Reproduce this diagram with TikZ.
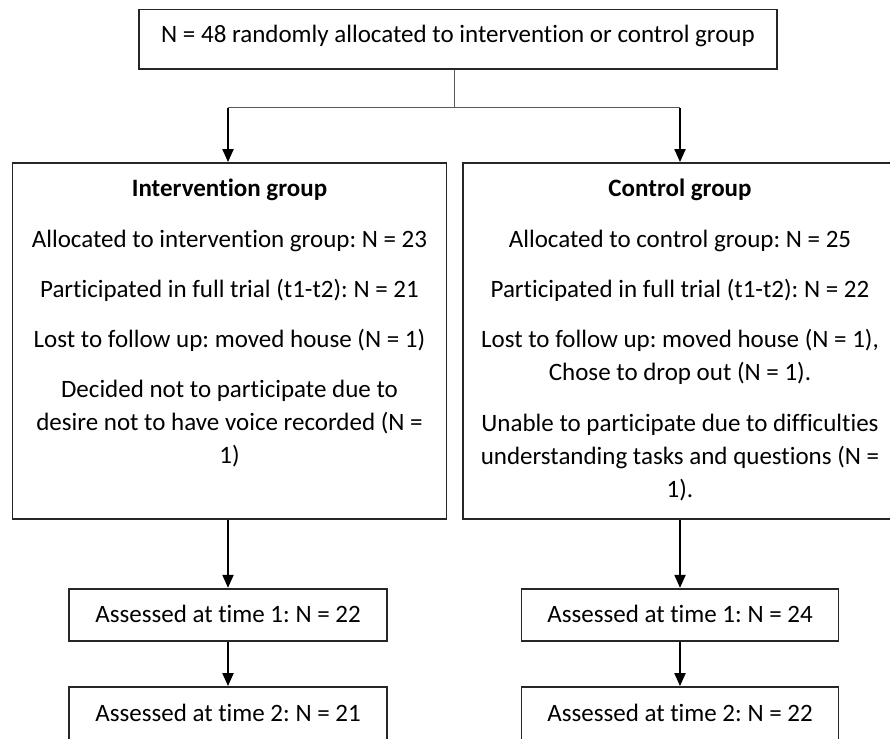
\documentclass[tikz,border=0pt]{standalone}
\usepackage{fontspec}
\setmainfont{Carlito}[Ligatures=NoCommon]
\frenchspacing
\usetikzlibrary{arrows.meta}
\tikzset{
  boxnode/.style={draw=black!85, line width=1.8pt, rectangle, inner sep=0pt, fill=none},
  txt/.style={anchor=base, inner sep=0pt, font=\fontsize{25}{33}\selectfont},
  arr/.style={line width=2pt, -{Triangle[width=11pt,length=13pt]}},
  thinline/.style={line width=1pt, draw=black!65}
}
\begin{document}
\begin{tikzpicture}[x=1pt,y=-1pt]
\useasboundingbox (0,0) rectangle (890,738);
% boxes
\node[boxnode, minimum width=638pt, minimum height=59.5pt] (top) at (458,39.25) {};
\node[boxnode, minimum width=434pt, minimum height=356pt] (intbox) at (229.5,341) {};
\node[boxnode, minimum width=434pt, minimum height=356pt] (ctrlbox) at (680,341) {};
\node[boxnode, minimum width=318pt, minimum height=52.5pt] (t1L) at (228,615) {};
\node[boxnode, minimum width=317pt, minimum height=52.5pt] (t1R) at (680,615) {};
\node[boxnode, minimum width=318pt, minimum height=60pt] (t2L) at (228,717) {};
\node[boxnode, minimum width=317pt, minimum height=60pt] (t2R) at (680,717) {};
% texts
\node[txt] (toptxt) at (458,43) {N = 48 randomly allocated to intervention or control group};
\node[txt] (inttxt) at (229.5,196) {\parbox[t]{430pt}{\centering\fontsize{25}{33}\selectfont
  \textbf{Intervention group}\\[18pt]
  Allocated to intervention group: N = 23\\[17pt]
  Participated in full trial (t1-t2): N = 21\\[17pt]
  Lost to follow up: moved house (N = 1)\\[17pt]
  Decided not to participate due to\\
  desire not to have voice recorded (N =\\
  1)}};
\node[txt] (ctrltxt) at (680,196) {\parbox[t]{430pt}{\centering\fontsize{25}{33}\selectfont
  \textbf{Control group}\\[18pt]
  Allocated to control group: N = 25\\[17pt]
  Participated in full trial (t1-t2): N = 22\\[17pt]
  Lost to follow up: moved house (N = 1),\\
  Chose to drop out (N = 1).\\[18pt]
  Unable to participate due to difficulties\\
  understanding tasks and questions (N =\\
  1).}};
\node[txt] (t1Ltxt) at (228,622) {Assessed at time 1: N = 22};
\node[txt] (t1Rtxt) at (680,622) {Assessed at time 1: N = 24};
\node[txt] (t2Ltxt) at (228,721) {Assessed at time 2: N = 21};
\node[txt] (t2Rtxt) at (680,721) {Assessed at time 2: N = 22};
% connectors
\coordinate (split) at (454,108);
\coordinate (forkL) at (228,108);
\coordinate (forkR) at (680,108);
\draw[thinline] (top.south -| split) -- (split);
\draw[thinline] (forkL) -- (forkR);
\draw[arr] ([yshift=-0.5pt]forkL) -- (intbox.north -| forkL);
\draw[arr] ([yshift=-0.5pt]forkR) -- (ctrlbox.north -| forkR);
\draw[arr] (intbox.south -| t1L) -- (t1L.north);
\draw[arr] (ctrlbox.south -| t1R) -- (t1R.north);
\draw[arr] (t1L.south) -- (t2L.north);
\draw[arr] (t1R.south) -- (t2R.north);
\end{tikzpicture}
\end{document}
